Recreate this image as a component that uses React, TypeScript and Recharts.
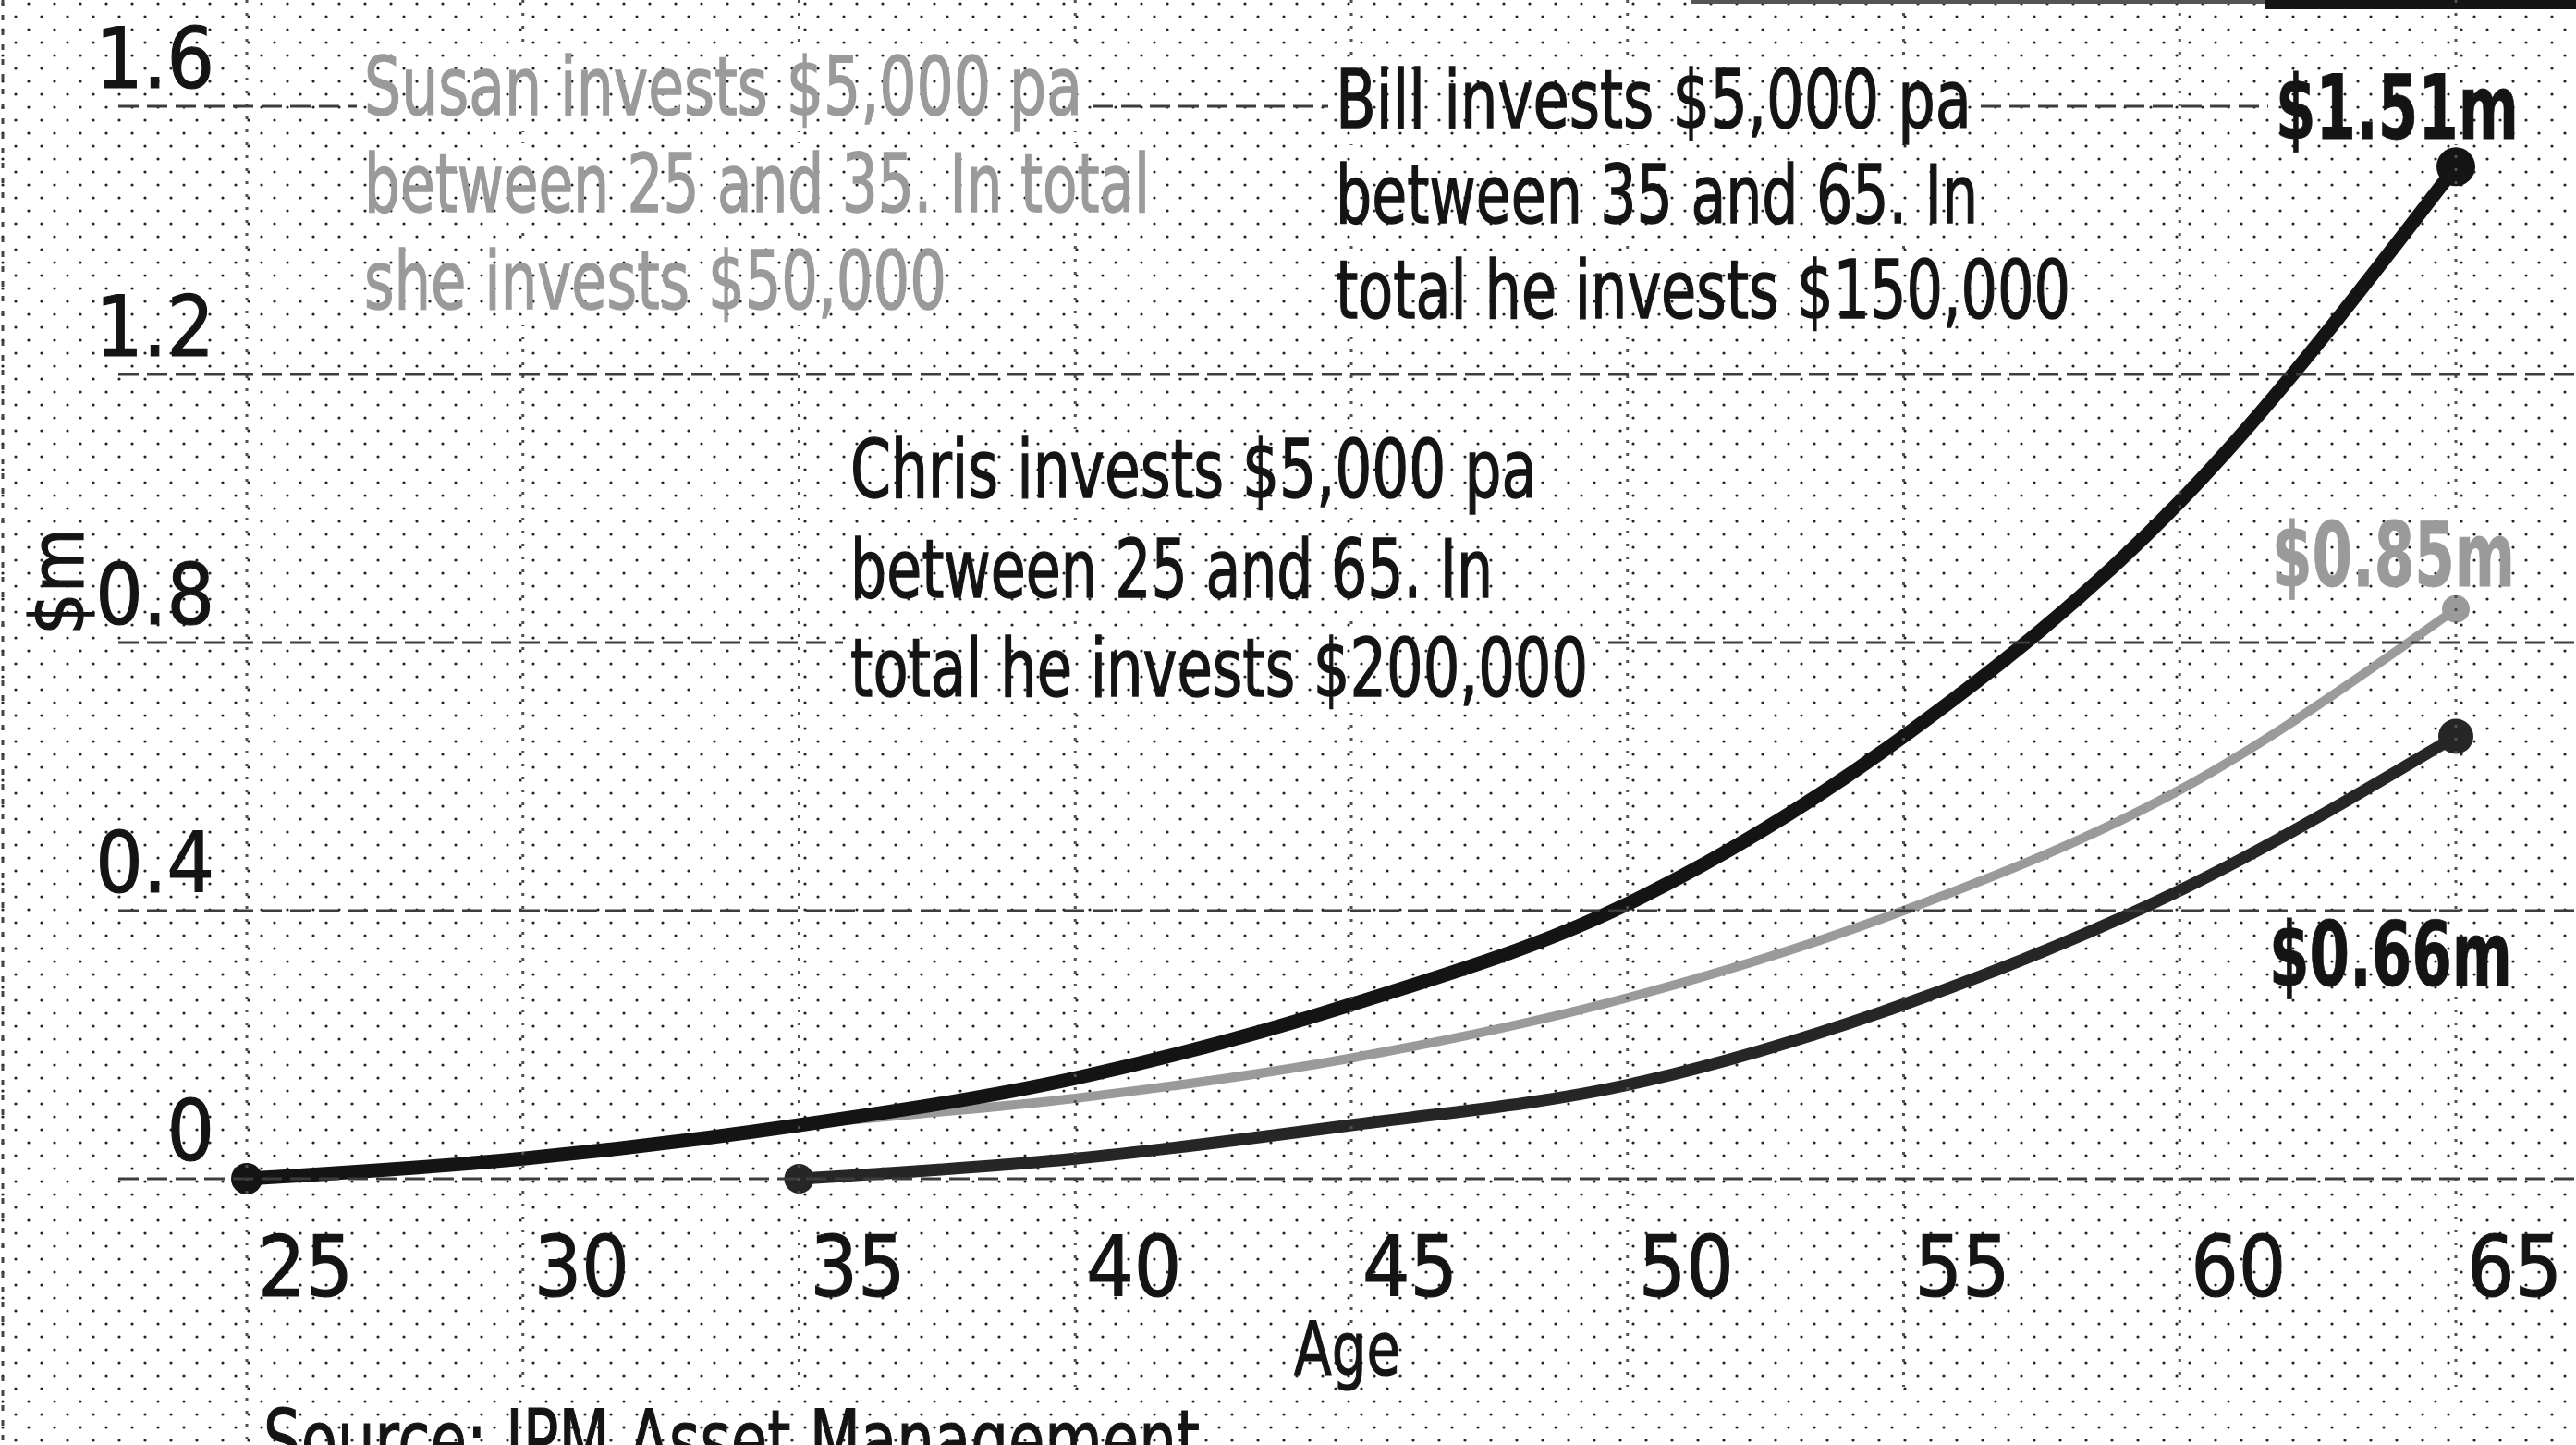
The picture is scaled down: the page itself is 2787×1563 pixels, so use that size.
import React from "react";
import { LineChart, Line, XAxis, YAxis } from "recharts";

// ages on the x axis and the three investors' pot in $m
const ages = [25, 30, 35, 40, 45, 50, 55, 60, 65];
const chrisValues = [0, 0.03, 0.08, 0.15, 0.26, 0.41, 0.66, 1.01, 1.51];
const susanValues = [0, 0.03, 0.08, 0.12, 0.18, 0.27, 0.4, 0.58, 0.85];
const billValues = [null, null, 0, 0.03, 0.08, 0.14, 0.26, 0.43, 0.66];
const yTicks = [0, 0.4, 0.8, 1.2, 1.6];

const susanNote = ["Susan invests $5,000 pa", "between 25 and 35. In total", "she invests $50,000"];
const billNote = ["Bill invests $5,000 pa", "between 35 and 65. In", "total he invests $150,000"];
const chrisNote = ["Chris invests $5,000 pa", "between 25 and 65. In", "total he invests $200,000"];
const endLabels = ["$1.51m", "$0.85m", "$0.66m"];

const data = ages.map((age, i) => ({
  age,
  chris: chrisValues[i],
  susan: susanValues[i],
  bill: billValues[i],
}));

const W = 2787;
const H = 1563;
const FONT = '"DejaVu Sans Condensed", "Liberation Sans Narrow", sans-serif';
const INK = "#141414";
const GREY = "#9a9a9a";

function YTick({ y, payload }: any) {
  const v = payload.value;
  return (
    <g>
      <line x1={128} x2={v === 1.6 ? 2460 : W} y1={y} y2={y} stroke="#3c3c3c" strokeWidth={3} strokeDasharray="22 9" />
      <text x={232} y={y - 20} textAnchor="end" fontFamily={FONT} fontSize={90} fill={INK} stroke={INK} strokeWidth={1.2}>
        {v === 0 ? "0" : v.toFixed(1)}
      </text>
    </g>
  );
}

function XTick({ x, payload }: any) {
  return (
    <g>
      <line x1={x} x2={x} y1={0} y2={payload.value === 25 ? H : 1500} stroke="#505050" strokeWidth={3} strokeDasharray="3 11" />
      <text x={x + 12} y={1402} fontFamily={FONT} fontSize={90} fill={INK} stroke={INK} strokeWidth={1.2}>
        {payload.value}
      </text>
    </g>
  );
}

const makeDot = (color: string, startR: number, endR: number, first: number | null) => (props: any) => {
  const { cx, cy, index } = props;
  if (cx == null || cy == null) return <g key={`d${index}`} />;
  if (index === ages.length - 1) return <circle key={`d${index}`} cx={cx} cy={cy} r={endR} fill={color} />;
  if (first !== null && index === first) return <circle key={`d${index}`} cx={cx} cy={cy} r={startR} fill={color} />;
  return <g key={`d${index}`} />;
};

// one annotation line with a patch behind it, like the printed boxes
function NoteLine({ x, y, text, width, color }: any) {
  return (
    <g>
      <rect x={x - 8} y={y - 74} width={width + 16} height={92} fill="#fff" />
      <rect x={x - 8} y={y - 74} width={width + 16} height={92} fill="url(#grain)" />
      <text
        x={x}
        y={y}
        fontFamily={FONT}
        fontSize={88}
        fill={color}
        stroke={color}
        strokeWidth={1.4}
        textLength={width}
        lengthAdjust="spacingAndGlyphs"
      >
        {text}
      </text>
    </g>
  );
}

// bold end value, squeezed horizontally like the condensed print face
function EndLabel({ x, y, text, color }: any) {
  const sx = 0.72;
  return (
    <g>
      <rect x={x - 8} y={y - 74} width={279} height={80} fill="#fff" />
      <rect x={x - 8} y={y - 74} width={279} height={80} fill="url(#grain)" />
      <text
        transform={`translate(${x} ${y}) scale(${sx} 1)`}
        fontFamily={FONT}
        fontSize={96}
        fontWeight={700}
        fill={color}
        stroke={color}
        strokeWidth={0.8}
        textLength={365}
        lengthAdjust="spacingAndGlyphs"
      >
        {text}
      </text>
    </g>
  );
}

export default function App() {
  return (
    <div style={{ position: "fixed", left: 0, top: 0, width: W, height: H, background: "#fff", overflow: "hidden" }}>
      <svg width={W} height={H} style={{ position: "absolute", left: 0, top: 0 }}>
        <defs>
          <pattern id="grain0" width="28" height="28" patternUnits="userSpaceOnUse">
            <circle cx="3" cy="4" r="1.6" fill="#222" />
            <circle cx="17" cy="18" r="1.6" fill="#222" />
          </pattern>
        </defs>
        <rect width={W} height={H} fill="url(#grain0)" />
        <rect x={2450} y={0} width={337} height={10} fill={INK} />
        <rect x={1830} y={0} width={620} height={4} fill="#555" />
        <line x1={3} x2={3} y1={0} y2={H} stroke="#444" strokeWidth={3} strokeDasharray="6 10" />
      </svg>

      <div style={{ position: "absolute", left: 0, top: 0 }}>
        <LineChart width={W} height={H} data={data} margin={{ top: 115, right: 130, bottom: 228, left: 167 }}>
          <XAxis
            dataKey="age"
            type="number"
            domain={[25, 65]}
            ticks={ages}
            height={60}
            axisLine={false}
            tickLine={false}
            tick={<XTick />}
            interval={0}
          />
          <YAxis
            domain={[0, 1.6]}
            ticks={yTicks}
            width={100}
            axisLine={false}
            tickLine={false}
            tick={<YTick />}
            interval={0}
          />
          <Line
            type="monotone"
            dataKey="susan"
            stroke={GREY}
            strokeWidth={10}
            dot={makeDot(GREY, 0, 15, null)}
            activeDot={false}
            isAnimationActive={false}
          />
          <Line
            type="monotone"
            dataKey="bill"
            stroke="#262626"
            strokeWidth={13}
            dot={makeDot("#262626", 16, 19, 2)}
            activeDot={false}
            isAnimationActive={false}
          />
          <Line
            type="monotone"
            dataKey="chris"
            stroke={INK}
            strokeWidth={15}
            dot={makeDot(INK, 17, 21, 0)}
            activeDot={false}
            isAnimationActive={false}
          />
        </LineChart>
      </div>

      <svg width={W} height={H} style={{ position: "absolute", left: 0, top: 0, pointerEvents: "none" }}>
        <defs>
          <pattern id="grain" width="28" height="28" patternUnits="userSpaceOnUse">
            <circle cx="3" cy="4" r="1.6" fill="#222" />
            <circle cx="17" cy="18" r="1.6" fill="#222" />
          </pattern>
        </defs>
        <NoteLine x={394} y={124} text={susanNote[0]} width={777} color={GREY} />
        <NoteLine x={394} y={229} text={susanNote[1]} width={850} color={GREY} />
        <NoteLine x={394} y={334} text={susanNote[2]} width={630} color={GREY} />

        <NoteLine x={1445} y={138} text={billNote[0]} width={688} color={INK} />
        <NoteLine x={1445} y={241} text={billNote[1]} width={695} color={INK} />
        <NoteLine x={1445} y={344} text={billNote[2]} width={795} color={INK} />

        <NoteLine x={920} y={538} text={chrisNote[0]} width={743} color={INK} />
        <NoteLine x={920} y={646} text={chrisNote[1]} width={695} color={INK} />
        <NoteLine x={920} y={753} text={chrisNote[2]} width={798} color={INK} />

        <EndLabel x={2462} y={150} text={endLabels[0]} color={INK} />
        <EndLabel x={2458} y={634} text={endLabels[1]} color={GREY} />
        <EndLabel x={2455} y={1066} text={endLabels[2]} color={INK} />

        <text x={62} y={629} transform="rotate(-90 62 629)" textAnchor="middle" dominantBaseline="central" fontFamily={FONT} fontSize={80} fill={INK} stroke={INK} strokeWidth={1.2}>
          $m
        </text>
        <text x={1400} y={1487} fontFamily={FONT} fontSize={80} fill={INK} stroke={INK} strokeWidth={1.2} textLength={115} lengthAdjust="spacingAndGlyphs">
          Age
        </text>
        <text x={285} y={1590} fontFamily={FONT} fontSize={90} fill={INK} stroke={INK} strokeWidth={1.2} textLength={1013} lengthAdjust="spacingAndGlyphs">
          Source: JPM Asset Management
        </text>
      </svg>
    </div>
  );
}
